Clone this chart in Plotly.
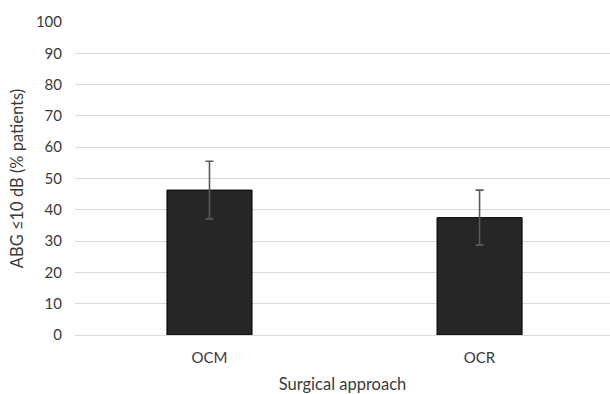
import plotly.graph_objects as go

categories = ["OCM", "OCR"]
values = [46.3, 37.5]
errors = [9.2, 8.8]
y_ticks = [0, 10, 20, 30, 40, 50, 60, 70, 80, 90, 100]

fig = go.Figure()
fig.add_trace(go.Bar(
    x=categories, y=values,
    width=0.315,
    marker=dict(color="#262626", line=dict(color="#000000", width=1)),
    error_y=dict(type="data", array=errors, visible=True, color="#595959", thickness=1.6, width=4),
))

txt = "#3a3a3a"
fig.update_layout(
    width=610, height=394,
    margin=dict(l=75, r=0, t=22, b=59),
    plot_bgcolor="white", paper_bgcolor="white",
    font=dict(family="Lato, Open Sans, sans-serif", size=15, color=txt),
    showlegend=False,
    xaxis=dict(
        range=[-0.498, 1.483],
        showgrid=False, showline=False, zeroline=False,
        ticks="", ticklabelstandoff=12, tickfont=dict(size=15, color=txt),
        title=dict(text="Surgical approach", font=dict(size=16.5, color=txt), standoff=17),
    ),
    yaxis=dict(
        range=[0, 100], tickvals=y_ticks,
        showgrid=True, gridcolor="#d9d9d9", gridwidth=1.4,
        zeroline=True, zerolinecolor="#d9d9d9", zerolinewidth=1.4,
        showline=False, ticks="", ticklabelstandoff=12,
        tickfont=dict(size=15, color=txt),
        title=dict(text="ABG ≤10 dB (% patients)", font=dict(size=16.5, color=txt), standoff=8),
    ),
)

fig.write_html("out.html", config={"displayModeBar": False},
               post_script="document.body.style.margin='0';document.body.style.padding='0';")
